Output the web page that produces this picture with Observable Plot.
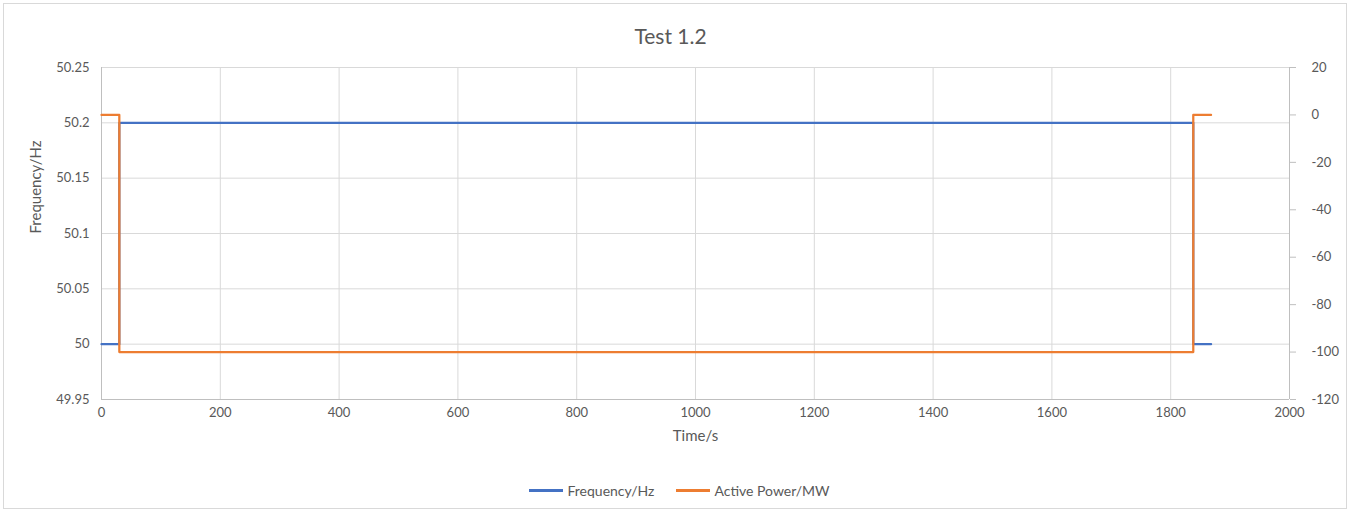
<!DOCTYPE html>
<html>
<head>
<meta charset="utf-8">
<script src="https://cdn.jsdelivr.net/npm/d3@7"></script>
<script src="https://cdn.jsdelivr.net/npm/@observablehq/plot@0.6"></script>
<style>
  body { margin: 0; background: #fff; font-family: Lato, "Open Sans", sans-serif; }
  #frame { position: absolute; left: 3px; top: 3px; width: 1344px; height: 506px; border: 1px solid #d9d9d9; box-sizing: border-box; }
  #title { position: absolute; left: 0; width: 1341px; top: 23px; text-align: center; font-size: 21px; color: #595959; }
  #chart { position: absolute; left: 0; top: 0; }
  #legend { position: absolute; left: 0; width: 1359px; top: 482px; display: flex; justify-content: center; gap: 22px; font-size: 14px; color: #595959; box-sizing: border-box; }
  .item { display: flex; align-items: center; gap: 4px; }
  .sw { width: 34px; height: 2.5px; display: inline-block; }
</style>
</head>
<body>
<div id="frame"></div>
<div id="title">Test 1.2</div>
<div id="chart"></div>
<div id="legend"></div>
<script>
// Data
const time = [0, 30, 1838, 1868];
const frequency = [50, 50.2, 50, 50];
const activePower = [0, -100, 0, 0];
const freqTicks = [49.95, 50, 50.05, 50.1, 50.15, 50.2, 50.25];
const powerTicks = [-120, -100, -80, -60, -40, -20, 0, 20];
const timeTicks = [0, 200, 400, 600, 800, 1000, 1200, 1400, 1600, 1800, 2000];
const seriesNames = ["Frequency/Hz", "Active Power/MW"];
const colors = ["#4472C4", "#ED7D31"];

// Map the secondary (power) axis onto the frequency scale
const fMin = 49.95, fMax = 50.25, pMin = -120, pMax = 20;
const toF = p => fMin + (p - pMin) * (fMax - fMin) / (pMax - pMin);
const fromF = f => pMin + (f - fMin) * (pMax - pMin) / (fMax - fMin);

const freqData = time.map((t, i) => ({t, v: frequency[i]}));
const powerData = time.map((t, i) => ({t, v: toF(activePower[i])}));

const grid = "#d9d9d9";
const chart = Plot.plot({
  width: 1357,
  height: 460,
  marginTop: 67,
  marginBottom: 61,
  marginLeft: 101,
  marginRight: 68,
  style: { fontFamily: "Lato, 'Open Sans', sans-serif", fontSize: "13px", color: "#595959", background: "transparent" },
  x: { domain: [0, 2000] },
  y: { domain: [fMin, fMax] },
  marks: [
    Plot.gridX(timeTicks.filter(d => d > 0 && d < 2000), { stroke: grid, strokeOpacity: 1 }),
    Plot.gridY(freqTicks, { stroke: grid, strokeOpacity: 1 }),
    Plot.ruleX([0], { stroke: "#bfbfbf" }),
    Plot.ruleX([2000], { stroke: "#bfbfbf" }),
    Plot.ruleY([fMin], { stroke: "#bfbfbf" }),
    Plot.axisX(timeTicks, { tickSize: 0, tickPadding: 8, label: null, fill: "#595959",
      tickFormat: d => String(d) }),
    Plot.axisY(freqTicks, { tickSize: 0, tickPadding: 12, label: null, fill: "#595959",
      tickFormat: d => String(+d.toFixed(2)) }),
    Plot.axisY(powerTicks.map(toF), { anchor: "right", tickSize: 6, tickPadding: 16, stroke: "#bfbfbf", label: null, fill: "#595959",
      tickFormat: d => String(Math.round(fromF(d))) }),
    Plot.text(["Time/s"], { frameAnchor: "bottom", dy: 41, fill: "#595959", fontSize: 15 }),
    Plot.text(["Frequency/Hz"], { frameAnchor: "left", dx: -65, rotate: -90, fill: "#595959", fontSize: 15 }),
    Plot.line(freqData, { x: "t", y: "v", curve: "step-after", stroke: colors[0], strokeWidth: 2.25 }),
    Plot.line(powerData, { x: "t", y: "v", curve: "step-after", stroke: colors[1], strokeWidth: 2.25 })
  ]
});
document.getElementById("chart").appendChild(chart);

const legend = document.getElementById("legend");
seriesNames.forEach((name, i) => {
  const item = document.createElement("div");
  item.className = "item";
  const sw = document.createElement("span");
  sw.className = "sw";
  sw.style.background = colors[i];
  const label = document.createElement("span");
  label.textContent = name;
  item.appendChild(sw);
  item.appendChild(label);
  legend.appendChild(item);
});
</script>
</body>
</html>
